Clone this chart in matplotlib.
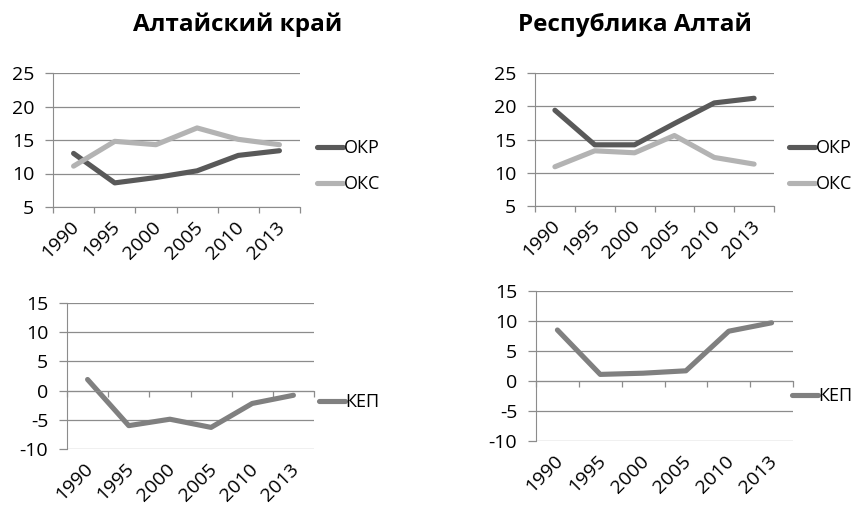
import matplotlib
matplotlib.use("Agg")
import matplotlib.pyplot as plt

plt.rcParams['font.family'] = ['Open Sans', 'DejaVu Sans']
plt.rcParams['axes.unicode_minus'] = False

W, H = 857, 507

years = ['1990', '1995', '2000', '2005', '2010', '2013']

# Алтайский край
okr_krai = [13.0, 8.6, 9.4, 10.4, 12.7, 13.4]
oks_krai = [11.1, 14.8, 14.3, 16.8, 15.1, 14.3]
kep_krai = [1.9, -6.0, -4.9, -6.3, -2.2, -0.8]

# Республика Алтай
okr_resp = [19.4, 14.2, 14.2, 17.4, 20.5, 21.2]
oks_resp = [10.9, 13.3, 13.0, 15.6, 12.3, 11.3]
kep_resp = [8.5, 1.1, 1.3, 1.7, 8.3, 9.7]

titles = ['Алтайский край', 'Республика Алтай']

c_okr = '#595959'
c_oks = '#b3b3b3'
c_kep = '#808080'
c_axis = '#8c8c8c'
lw = 3.7
fs = 14


def px_axes(fig, x0, x1, ytop, ybot):
    return fig.add_axes([x0 / W, 1 - ybot / H, (x1 - x0) / W, (ybot - ytop) / H])


def style_axes(ax, ylim, zero_axis=False):
    x = range(len(years))
    ax.set_xlim(-0.5, len(years) - 0.5)
    ax.set_ylim(*ylim)
    ax.set_yticks(range(ylim[0], ylim[1] + 1, 5))
    ax.yaxis.grid(True, color=c_axis, lw=0.9)
    ax.set_axisbelow(True)
    for s in ['top', 'right']:
        ax.spines[s].set_visible(False)
    ax.spines['left'].set_color(c_axis)
    ax.spines['bottom'].set_color(c_axis)
    if zero_axis:
        ax.spines['bottom'].set_position(('data', 0))
    ax.set_xticks([i - 0.5 for i in range(len(years) + 1)])
    ax.set_xticklabels([])
    ax.tick_params(axis='x', colors=c_axis, length=4, width=0.9)
    ax.tick_params(axis='y', colors=c_axis, length=5.5, width=0.9,
                   labelcolor='black', labelsize=fs, pad=8)
    for i, lab in enumerate(years):
        ax.annotate(lab, xy=(i, 0), xycoords=ax.get_xaxis_transform(),
                    xytext=(2, -12.5), textcoords='offset points',
                    rotation=45, ha='right', va='center',
                    rotation_mode='anchor', fontsize=fs)
    return x


def add_legend(ax, x, y, spacing=1.0):
    ax.legend(loc='center left', bbox_to_anchor=(x / W, 1 - y / H),
              bbox_transform=fig.transFigure, frameon=False, fontsize=13,
              handlelength=1.45, handletextpad=0.02, labelspacing=spacing,
              borderpad=0, borderaxespad=0)


fig = plt.figure(figsize=(W / 100, H / 100), dpi=100)

# top-left
ax1 = px_axes(fig, 53, 300, 73, 207)
x = style_axes(ax1, (5, 25))
ax1.plot(x, okr_krai, color=c_okr, lw=lw, label='ОКР', solid_capstyle='round')
ax1.plot(x, oks_krai, color=c_oks, lw=lw, label='ОКС', solid_capstyle='round')
add_legend(ax1, 317, 166)
fig.text(238 / W, 1 - 25 / H, titles[0], ha='center', va='center',
         fontsize=17.5, fontweight='bold')

# top-right
ax2 = px_axes(fig, 535, 774, 73, 206)
x = style_axes(ax2, (5, 25))
ax2.plot(x, okr_resp, color=c_okr, lw=lw, label='ОКР', solid_capstyle='round')
ax2.plot(x, oks_resp, color=c_oks, lw=lw, label='ОКС', solid_capstyle='round')
add_legend(ax2, 789, 166)
fig.text(635 / W, 1 - 25 / H, titles[1], ha='center', va='center',
         fontsize=17.5, fontweight='bold')

# bottom-left
ax3 = px_axes(fig, 67, 314, 303, 449)
x = style_axes(ax3, (-10, 15), zero_axis=True)
ax3.plot(x, kep_krai, color=c_kep, lw=lw, label='КЕП', solid_capstyle='round')
add_legend(ax3, 319, 402)

# bottom-right
ax4 = px_axes(fig, 536, 793, 291, 441)
x = style_axes(ax4, (-10, 15), zero_axis=True)
ax4.plot(x, kep_resp, color=c_kep, lw=lw, label='КЕП', solid_capstyle='round')
add_legend(ax4, 792, 396)

fig.savefig('out.png', dpi=100)
